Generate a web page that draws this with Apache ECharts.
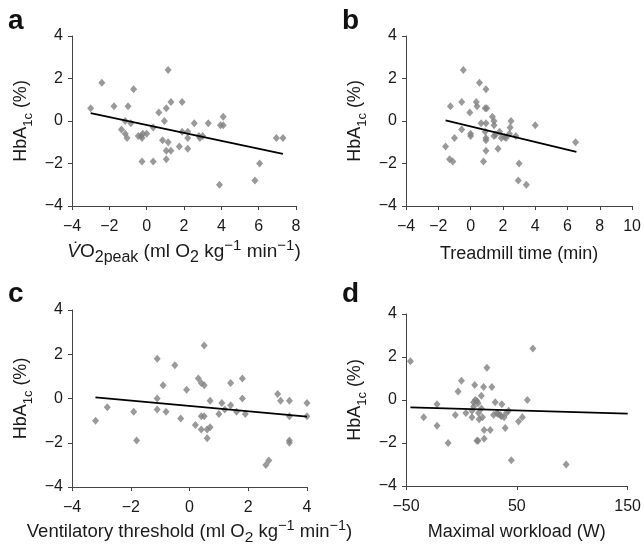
<!DOCTYPE html>
<html>
<head>
<meta charset="utf-8">
<script src="https://cdn.jsdelivr.net/npm/echarts@6/dist/echarts.min.js"></script>
<style>
  html, body { margin: 0; padding: 0; background: #fff; }
  #chart { width: 644px; height: 547px; }
</style>
</head>
<body>
<div id="chart"></div>
<script>
// panel a: VO2peak change vs HbA1c change
var aX = [-3.0, -2.4, -1.75, -0.7, -1.0, -1.15, -0.85, -1.35, -1.15, -1.05, -0.45, -0.3, -0.25, -0.2, 0.0,
  -0.25, 0.35, 0.35, 0.65, 0.95, 1.05, 1.15, 1.3, 0.85, 1.15, 1.05, 1.3, 1.05, 1.9, 1.75, 1.9, 2.2, 2.2, 2.2,
  2.55, 2.85, 3.0, 2.8, 3.3, 4.1, 3.95, 4.1, 3.9, 5.8, 6.05, 6.95, 7.3]
var aY = [0.6, 1.8, 0.7, 1.5, 0.7, 0.0, -0.1, -0.4, -0.6, -0.8, -0.7, -0.7, -0.8, -0.6, -0.6,
  -1.9, -1.9, -0.3, 0.4, 0.0, 0.6, 2.4, 0.9, -0.9, -1.0, -1.4, -1.4, -1.8, 0.9, -1.2, -0.5, -0.5, -0.8, -1.3,
  -0.1, -0.8, -0.7, -0.7, -0.1, 0.2, -0.2, -0.2, -3.0, -2.8, -2.0, -0.8, -0.8]
var aFitX = [-3.0, 7.3]
var aFitY = [0.37, -1.55]

// panel b: treadmill time
var bX = [-0.45, 0.55, 0.95, -1.25, -0.55, 0.35, 0.4, 0.9, 1.0, -0.05, 1.35, 1.45, 2.5, 0.65, 0.95, 1.45,
  2.45, 4.0, -0.55, 0.0, 0.0, -1.0, -1.55, 0.9, 0.95, 0.95, 1.45, 1.8, 1.9, 2.2, 2.4, 2.8, 1.7, 0.95,
  -1.3, -1.1, 0.8, 3.0, 2.95, 3.45, 6.5, 1.55, 2.1]
var bY = [2.4, 1.8, 1.5, 0.7, 0.9, 0.9, 0.7, 0.6, 0.6, 0.4, 0.2, 0.0, 0.0, -0.1, -0.1, -0.2,
  -0.3, -0.2, -0.4, -0.6, -0.7, -0.8, -1.2, -0.5, -0.8, -0.9, -0.7, -0.5, -0.8, -0.8, -0.6, -0.7, -1.3, -1.4,
  -1.8, -1.9, -1.9, -2.0, -2.8, -3.0, -1.0, -0.65, -0.75]
var bFitX = [-1.55, 6.55]
var bFitY = [0.03, -1.45]

// panel c: ventilatory threshold
var cX = [-3.2, -2.8, -1.9, -1.8, -1.1, -1.1, -1.1, -0.9, -0.8, -0.5, -0.3, -0.1, 0.2, 0.3, 0.4, 0.5,
  0.5, 0.4, 0.5, 0.4, 0.6, 0.7, 0.6, 0.7, 1.0, 1.1, 1.2, 1.4, 1.4, 1.6, 1.8, 1.8, 1.9, 2.6, 2.7,
  3.0, 3.1, 3.4, 3.4, 3.4, 3.4, 4.0, 4.0]
var cY = [-1.0, -0.4, -0.6, -1.9, 1.8, 0.0, -0.5, 0.6, -0.6, 1.5, -0.9, 0.4, -1.2, 0.9, 0.7, 0.6,
  2.4, -0.8, -0.8, -1.4, -1.4, -1.3, -1.8, -0.1, -0.7, -0.2, -0.5, 0.7, -0.3, -0.6, 0.9, 0.0, -0.7, -3.0, -2.8,
  0.2, -0.1, -0.1, -0.8, -1.9, -2.0, -0.2, -0.8]
var cFitX = [-3.2, 4.0]
var cFitY = [0.05, -0.82]

// panel d: maximal workload
var dX = [-46, -34, -22, -22, -12, -5.5, -3, 0, 4, 9.5, 9.5, 11, 11, 12, 12.5, 14, 15, 14, 15, 16, 15.5,
  18, 18, 20, 19, 20.5, 20.5, 23, 26, 27.5, 29, 30.5, 32, 35, 36.5, 38.5, 39.5, 40.5, 42.5, 45, 51.5,
  55, 59.5, 64.5, 94.5, 33, 36]
var dY = [1.8, -0.8, -0.2, -1.2, -2.0, -0.7, 0.4, 0.9, -0.6, -0.5, -0.8, -0.3, -0.1, 0.7, 0.0, -0.05,
  -0.15, -1.9, -1.9, -0.9, -0.6, -0.4, 0.2, 0.6, -0.8, -1.8, -1.4, 1.5, -1.4, 0.6, -0.7, -0.1, -0.6, -0.7,
  -0.2, -0.8, -1.3, -0.6, -0.5, -2.8, -1.0, -0.8, 0.0, 2.4, -3.0, -0.65, -0.75]
var dFitX = [-46, 150]
var dFitY = [-0.34, -0.63]

var yTicks = [-4, 4, 2]

var labelFont = 'Liberation Sans, Arial, sans-serif'
var grey = '#7f7f7f'
var axisCol = '#444'
var txt = '#1a1a1a'

function pairs (xs, ys) {
  return xs.map(function (x, i) { return [x, ys[i]] })
}

function minus (v) {
  return String(v).replace('-', '\u2212')
}

// sub/superscripts for the axis titles: tall line, small tokens pinned to top/bottom
function richFor (size, subSize) {
  return {
    sub: { fontSize: subSize, lineHeight: 14, verticalAlign: 'bottom', fontFamily: labelFont, color: txt },
    sup: { fontSize: size - 4, lineHeight: 14, verticalAlign: 'top', fontFamily: labelFont, color: txt },
    it: { fontSize: size, lineHeight: 28, fontStyle: 'italic', fontFamily: labelFont, color: txt }
  }
}

var panels = [
  { grid: { left: 72, top: 36, width: 224, height: 170 }, xmin: -4, xmax: 8, xint: 2,
    name: '{it|V\u0307}O{sub|2peak} (ml O{sub|2} kg{sup|\u22121} min{sup|\u22121})', gap: 32, fs: 19,
    pts: pairs(aX, aY), fit: pairs(aFitX, aFitY) },
  { grid: { left: 406, top: 36, width: 228, height: 170 }, xmin: -4, xmax: 10, xint: 2,
    name: 'Treadmill time (min)', gap: 34, fs: 18,
    pts: pairs(bX, bY), fit: pairs(bFitX, bFitY) },
  { grid: { left: 72, top: 310, width: 235, height: 177 }, xmin: -4, xmax: 4, xint: 2,
    name: 'Ventilatory threshold (ml O{sub|2} kg{sup|\u22121} min{sup|\u22121})', gap: 31, fs: 18.5,
    pts: pairs(cX, cY), fit: pairs(cFitX, cFitY) },
  { grid: { left: 406, top: 314, width: 223, height: 173 }, xmin: -50, xmax: 150, xint: 100,
    name: 'Maximal workload (W)', gap: 32, fs: 18,
    pts: pairs(dX, dY), fit: pairs(dFitX, dFitY) }
]

var option = {
  animation: false,
  backgroundColor: '#fff',
  title: [
    { text: 'a', left: 8, top: 7 },
    { text: 'b', left: 342, top: 7 },
    { text: 'c', left: 8, top: 280 },
    { text: 'd', left: 342, top: 280 }
  ].map(function (t) {
    t.padding = 0
    t.textStyle = { fontSize: 28, fontWeight: 'bold', color: '#111', fontFamily: labelFont }
    return t
  }),
  grid: [], xAxis: [], yAxis: [], series: []
}

panels.forEach(function (p, i) {
  option.grid.push(p.grid)
  option.xAxis.push({
    gridIndex: i, type: 'value', min: p.xmin, max: p.xmax, interval: p.xint,
    name: p.name, nameLocation: 'middle', nameGap: p.gap,
    nameTextStyle: { fontSize: p.fs, lineHeight: 28, color: txt, fontFamily: labelFont, rich: richFor(p.fs, p.fs - 3) },
    splitLine: { show: false },
    axisLine: { onZero: false, lineStyle: { color: axisCol, width: 1 } },
    axisTick: { length: 4, lineStyle: { color: axisCol } },
    axisLabel: { fontSize: 16, color: txt, fontFamily: labelFont, margin: 13, formatter: minus }
  })
  option.yAxis.push({
    gridIndex: i, type: 'value', min: yTicks[0], max: yTicks[1], interval: yTicks[2],
    name: 'HbA{sub|1c} (%)', nameLocation: 'middle', nameGap: 37, nameRotate: 90,
    nameTextStyle: { fontSize: 18, lineHeight: 28, color: txt, fontFamily: labelFont, rich: richFor(18, 13) },
    splitLine: { show: false },
    axisLine: { onZero: false, lineStyle: { color: axisCol, width: 1 } },
    axisTick: { length: 4, lineStyle: { color: axisCol } },
    axisLabel: { fontSize: 16, color: txt, fontFamily: labelFont, margin: 9, formatter: minus }
  })
  option.series.push({
    type: 'scatter', xAxisIndex: i, yAxisIndex: i, data: p.pts,
    symbol: 'diamond', symbolSize: [7, 8],
    itemStyle: { color: grey }
  })
  option.series.push({
    type: 'line', xAxisIndex: i, yAxisIndex: i, data: p.fit,
    symbol: 'none', lineStyle: { color: '#000', width: 1.8 }, z: 3
  })
})

var chart = echarts.init(document.getElementById('chart'))
chart.setOption(option)
</script>
</body>
</html>
